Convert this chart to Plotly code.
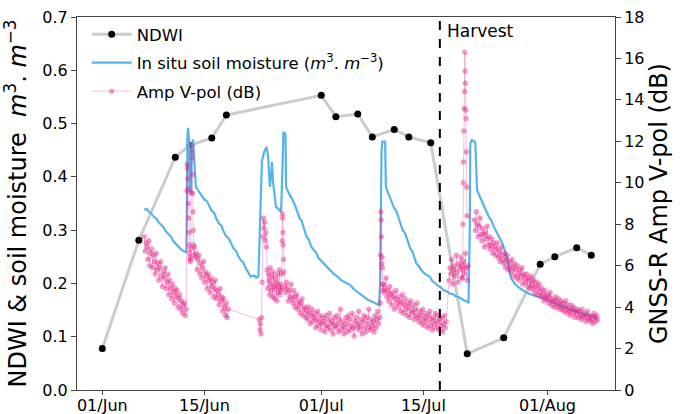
import pandas as pd
import plotly.graph_objects as go

BASE = pd.Timestamp("2019-06-01")

# ---------------- NDWI (Sentinel-2 dates) ----------------
ndwi_dates = ["2019-06-01", "2019-06-06", "2019-06-11", "2019-06-13", "2019-06-16",
              "2019-06-18", "2019-07-01", "2019-07-03", "2019-07-06", "2019-07-08",
              "2019-07-11", "2019-07-13", "2019-07-16", "2019-07-21", "2019-07-26",
              "2019-07-31", "2019-08-02", "2019-08-05", "2019-08-07"]
ndwi_values = [0.078, 0.281, 0.437, 0.459, 0.473, 0.516, 0.553, 0.513, 0.518, 0.475,
               0.489, 0.475, 0.464, 0.068, 0.098, 0.236, 0.250, 0.267, 0.253]

# ---------------- In situ soil moisture (days since 1 Jun, m3/m3) ----------------
sm_days = [5.74, 6.10, 6.40, 6.67, 7.00, 7.40, 7.70, 8.06, 8.40, 8.70, 9.06, 9.40, 9.70,
           10.06, 10.40, 10.83, 11.39, 11.53, 11.67, 11.76, 11.88, 11.99, 12.15, 12.26,
           12.43, 12.57, 12.82, 13.2, 13.6, 14.0, 14.3, 14.6, 15.0, 15.3, 15.6, 16.0,
           16.3, 16.6, 17.0, 17.3, 17.6, 18.0, 18.3, 18.6, 19.0, 19.3, 19.6, 20.0, 20.32,
           20.8, 21.1, 21.39, 21.60, 21.87, 22.18, 22.50, 22.70, 22.96, 23.10, 23.24,
           23.40, 23.79, 24.10, 24.49, 24.65, 24.82, 25.10, 25.18, 25.6, 26.1, 26.5, 27.0,
           27.3, 27.6, 27.96, 28.3, 28.6, 29.0, 29.3, 29.6, 30.0, 30.4, 30.74, 31.0, 31.4,
           31.7, 32.0, 32.4, 32.7, 33.0, 33.4, 33.99, 34.4, 34.8, 35.2, 35.6, 36.0, 36.4,
           36.8, 37.2, 37.6, 37.92, 38.06, 38.26, 38.38, 38.75, 38.85, 39.54, 40.0, 40.3,
           40.6, 41.15, 41.5, 41.8, 42.2, 42.5, 42.8, 43.01, 43.5, 43.8, 44.2, 44.86, 45.2,
           45.6, 46.0, 46.4, 46.71, 47.2, 47.6, 48.0, 48.4, 48.79, 49.2, 49.6, 50.0, 50.18,
           50.35, 50.42, 50.65, 51.11, 51.35, 51.94, 52.4, 52.96, 53.3, 53.7, 54.2, 54.82,
           55.3, 55.7, 56.0, 56.5, 57.1, 58.0, 59.0, 60.4, 61.2, 62.0, 63.15, 64.0, 65.0,
           66.0, 67.32, 67.78]
sm_values = [0.338, 0.340, 0.334, 0.332, 0.326, 0.322, 0.315, 0.310, 0.305, 0.298, 0.292,
             0.288, 0.280, 0.274, 0.270, 0.263, 0.259, 0.260, 0.480, 0.492, 0.470, 0.375,
             0.370, 0.460, 0.470, 0.440, 0.381, 0.373, 0.365, 0.357, 0.355, 0.346, 0.336,
             0.333, 0.322, 0.312, 0.309, 0.298, 0.288, 0.285, 0.275, 0.265, 0.262, 0.252,
             0.243, 0.240, 0.230, 0.221, 0.213, 0.215, 0.211, 0.213, 0.300, 0.430, 0.447,
             0.456, 0.440, 0.381, 0.400, 0.428, 0.390, 0.344, 0.340, 0.334, 0.400, 0.484,
             0.480, 0.381, 0.368, 0.356, 0.343, 0.323, 0.318, 0.303, 0.288, 0.282, 0.270,
             0.262, 0.258, 0.248, 0.242, 0.238, 0.231, 0.228, 0.222, 0.218, 0.215, 0.211,
             0.206, 0.204, 0.201, 0.197, 0.190, 0.186, 0.181, 0.177, 0.174, 0.169, 0.167,
             0.164, 0.161, 0.159, 0.200, 0.450, 0.466, 0.466, 0.381, 0.356, 0.341, 0.336,
             0.322, 0.300, 0.294, 0.280, 0.265, 0.260, 0.247, 0.238, 0.230, 0.223, 0.218,
             0.213, 0.205, 0.200, 0.196, 0.192, 0.188, 0.185, 0.181, 0.180, 0.176, 0.175,
             0.171, 0.168, 0.166, 0.163, 0.300, 0.463, 0.469, 0.465, 0.375, 0.355, 0.342,
             0.325, 0.318, 0.305, 0.292, 0.275, 0.255, 0.228, 0.210, 0.200, 0.192, 0.184,
             0.178, 0.172, 0.167, 0.162, 0.156, 0.152, 0.147, 0.143, 0.138, 0.135]

# ---------------- GNSS-R Amp V-pol (dB): segments (start, step in hours, values) ----------------
amp_starts = ["2019-06-06 18:00", "2019-06-12 14:00", "2019-06-13 15:00", "2019-06-22 12:00",
              "2019-06-25 13:00", "2019-06-26 00:00", "2019-07-09 01:00", "2019-07-09 12:00",
              "2019-07-18 12:00", "2019-07-20 08:00", "2019-07-22 00:00"]
amp_steps_h = [3, 1, 3, 2, 1, 3, 1, 3, 3, 1, 3]
amp_seg1 = [7.4, 6.7, 7.1, 6.9, 6.3, 7.2, 6.0, 6.6, 6.8, 5.9, 6.5, 6.2, 5.6, 6.6, 5.8, 6.1,
            5.3, 5.9, 6.2, 5.5, 5.0, 5.7, 5.4, 5.9, 4.9, 5.2, 5.6, 4.6, 5.3, 4.9, 4.4, 5.1,
            4.7, 4.2, 4.9, 4.5, 4.8, 4.0, 4.4, 4.6, 3.9, 4.3, 3.7, 4.1, 4.2, 3.6, 3.9]
amp_seg2 = [9.6, 10.9, 10.7, 10.2, 9.7, 9.0, 8.3, 7.6, 7.0, 6.6, 6.4, 6.2, 6.3, 6.8, 9.5,
            11.5, 11.8, 11.2, 10.4, 9.5, 8.6, 7.7, 7.0, 6.5]
amp_seg3 = [6.9, 6.4, 6.6, 5.8, 6.3, 6.5, 5.6, 6.1, 5.4, 5.9, 6.2, 5.2, 5.7, 5.5, 4.9, 5.6,
            5.3, 4.7, 5.4, 5.0, 5.2, 4.5, 4.9, 5.3, 4.4, 4.8, 4.6, 4.1, 4.9, 4.3, 4.5, 3.8,
            4.4, 4.0, 3.6, 4.2, 3.5, 3.9]
amp_seg4 = [3.4, 2.9, 3.2, 2.7, 3.5, 5.2, 7.4, 8.3, 7.8, 8.1, 7.2, 7.6, 6.9, 5.8, 4.9, 5.6,
            5.3, 4.6, 5.9, 5.1, 4.8, 5.5, 4.5, 5.7, 5.0, 4.4, 5.4, 4.9, 5.2, 4.3, 5.6, 4.7,
            5.0, 5.8, 4.6, 5.1, 4.8]
amp_seg5 = [4.9, 5.6, 7.2, 8.5, 8.3, 7.6, 7.0, 6.3, 5.7]
amp_seg6 = [5.0, 4.7, 5.2, 4.9, 4.3, 4.8, 4.5, 5.1,
            4.4, 4.2, 4.8, 4.0, 4.5, 4.6, 3.9, 4.3,
            4.1, 3.7, 4.2, 4.4, 3.6, 3.9, 4.0, 3.5,
            3.8, 3.4, 4.0, 3.7, 3.2, 3.6, 3.9, 3.3,
            3.5, 3.7, 3.0, 3.4, 3.8, 3.1, 3.3, 3.6,
            2.9, 3.2, 3.5, 3.3, 2.8, 3.6, 3.1, 3.0,
            3.4, 3.7, 2.9, 3.2, 3.3, 2.7, 3.5, 3.1,
            3.0, 3.6, 3.2, 2.8, 3.4, 3.9, 2.9, 3.1,
            3.3, 2.7, 3.0, 3.5, 3.2, 2.8, 3.6, 3.4,
            2.9, 3.1, 3.7, 3.0, 2.6, 3.3, 3.5, 3.0,
            3.2, 3.8, 2.9, 3.1, 3.4, 2.7, 3.3, 3.6,
            3.0, 2.8, 3.5, 3.2, 3.9, 3.0, 2.9, 3.4,
            3.1, 3.3, 2.8, 3.6, 3.0, 3.4, 3.8, 3.2]
amp_seg7 = [3.5, 4.2, 6.5, 8.6, 8.2, 7.4, 6.1, 6.4, 5.9, 5.1, 4.8]
amp_seg8 = [5.1, 4.7, 4.9, 5.4, 4.5, 4.8, 4.3, 5.0,
            4.6, 4.1, 4.7, 4.5, 3.9, 4.4, 4.8, 4.2,
            4.0, 4.5, 4.3, 3.8, 4.2, 4.6, 3.7, 4.1,
            4.4, 3.9, 3.6, 4.2, 4.0, 3.5, 4.3, 3.8,
            3.7, 4.1, 3.4, 3.9, 3.6, 4.2, 3.5, 3.3,
            3.8, 3.6, 3.2, 3.9, 3.4, 3.1, 3.7, 3.5,
            3.3, 3.0, 3.6, 3.8, 3.1, 3.4, 2.9, 3.5,
            3.2, 3.7, 3.0, 3.3, 3.6, 2.9, 3.4, 3.1,
            3.5, 2.8, 3.2, 3.6, 3.0, 3.3]
amp_seg9 = [5.3, 5.9, 5.6, 6.3, 5.1, 5.8, 6.0, 5.5, 6.5, 5.7, 5.2, 6.1, 5.9, 6.4, 5.4, 5.8,
            6.2, 5.6, 6.6, 5.9, 5.3, 6.0]
amp_seg10 = [5.4, 6.0, 8.0, 10.0, 11.0, 12.5, 13.6, 14.4, 16.3, 15.4, 14.8, 13.5, 13.1,
             11.5, 9.8, 8.4]
amp_seg11 = [8.2, 7.7, 8.6, 8.0, 7.4, 7.9, 8.3, 7.5,
             7.2, 7.8, 7.5, 6.9, 7.6, 7.3, 7.9, 7.0,
             7.4, 6.8, 7.0, 7.3, 6.6, 7.1, 6.9, 6.5,
             6.8, 7.1, 6.4, 6.7, 6.2, 6.9, 6.5, 6.3,
             6.1, 6.6, 5.9, 6.3, 6.5, 5.8, 6.2, 6.0,
             5.7, 6.3, 5.9, 5.5, 6.1, 5.8, 5.4, 6.0,
             5.6, 5.3, 5.8, 5.5, 5.9, 5.1, 5.6, 5.4,
             5.2, 5.6, 5.0, 5.4, 5.3, 4.9, 5.5, 5.1,
             4.9, 5.3, 4.7, 5.0, 5.2, 4.6, 4.9, 5.1,
             4.7, 4.5, 4.9, 4.6, 4.3, 4.8, 4.5, 4.4,
             4.6, 4.2, 4.5, 4.7, 4.1, 4.4, 4.3, 4.0,
             4.3, 4.5, 4.0, 4.2, 4.4, 3.9, 4.1, 4.3,
             3.9, 4.2, 3.8, 4.0, 4.3, 3.7, 4.1, 3.9,
             3.8, 3.6, 4.1, 3.9, 3.7, 4.0, 3.5, 3.8,
             3.7, 3.9, 3.5, 3.8, 3.6, 3.4, 3.9, 3.6,
             3.5, 3.7, 3.3, 3.6, 3.8, 3.4, 3.5, 3.3,
             3.6, 3.4, 3.2, 3.7, 3.5, 3.3, 3.6, 3.4]
amp_segments = [amp_seg1, amp_seg2, amp_seg3, amp_seg4, amp_seg5, amp_seg6, amp_seg7,
                amp_seg8, amp_seg9, amp_seg10, amp_seg11]

harvest_date = "2019-07-17 06:00"
x_ticks = ["2019-06-01", "2019-06-15", "2019-07-01", "2019-07-15", "2019-08-01"]
x_ticklabels = ["01/Jun", "15/Jun", "01/Jul", "15/Jul", "01/Aug"]

# ---------------- build series ----------------
sm_time = [BASE + pd.Timedelta(days=d) for d in sm_days]
amp_time, amp_vals = [], []
for start, step, vals in zip(amp_starts, amp_steps_h, amp_segments):
    t0 = pd.Timestamp(start)
    for i, v in enumerate(vals):
        amp_time.append(t0 + pd.Timedelta(hours=step * i))
        amp_vals.append(v)

FONT = "DejaVu Sans"
fig = go.Figure()
fig.add_trace(go.Scatter(
    x=ndwi_dates, y=ndwi_values, mode="lines+markers", name="NDWI",
    line=dict(color="#cccccc", width=3),
    marker=dict(color="black", size=7),
    legendgroup="a", yaxis="y"))
fig.add_trace(go.Scatter(
    x=sm_time, y=sm_values, mode="lines",
    name="In situ soil moisture (<i>m</i><sup>3</sup>. <i>m</i><sup>−3</sup>)",
    line=dict(color="#56B4E9", width=2.2),
    legendgroup="b", yaxis="y"))
fig.add_trace(go.Scatter(
    x=amp_time, y=amp_vals, mode="lines+markers", name="Amp V-pol (dB)",
    line=dict(color="rgba(231,41,138,0.3)", width=1),
    marker=dict(color="rgba(231,41,138,0.45)", size=5,
                line=dict(color="rgba(231,41,138,0.3)", width=0.5)),
    legendgroup="c", yaxis="y2"))

fig.add_shape(type="line", xref="x", yref="paper", x0=harvest_date, x1=harvest_date,
              y0=0, y1=1, line=dict(color="black", width=2, dash="dash"))
fig.add_annotation(x=pd.Timestamp("2019-07-17 23:00"), y=0.962, xref="x", yref="paper",
                   text="Harvest", showarrow=False, xanchor="left", yanchor="middle",
                   font=dict(family=FONT, size=17, color="black"))

axis_common = dict(showline=True, linecolor="#444", linewidth=1, ticks="outside",
                   tickcolor="#444", showgrid=False, zeroline=False,
                   automargin=False,
                   tickfont=dict(family=FONT, size=16, color="black"))

fig.update_layout(
    width=682, height=414,
    margin=dict(l=77, r=67, t=17, b=24),
    plot_bgcolor="white", paper_bgcolor="white",
    font=dict(family=FONT, size=16, color="black"),
    showlegend=True,
    legend=dict(x=0.018, y=1.0, xanchor="left", yanchor="top", itemwidth=40,
                bgcolor="rgba(0,0,0,0)", font=dict(family=FONT, size=16.5),
                tracegroupgap=4),
    xaxis=dict(type="date", range=["2019-05-28 12:45", "2019-08-10 06:00"],
               tickvals=x_ticks, ticktext=x_ticklabels, mirror=True,
               ticklen=4, ticklabelstandoff=-3, **axis_common),
    yaxis=dict(range=[0, 0.7], dtick=0.1, tickformat=".1f", ticklen=5,
               title=dict(text="NDWI & soil moisture  <i>m</i><sup>3</sup>. <i>m</i><sup>−3</sup>",
                          font=dict(family=FONT, size=24), standoff=10),
               **axis_common),
    yaxis2=dict(range=[0, 18], dtick=2, overlaying="y", side="right", ticklen=5,
                title=dict(text="GNSS-R Amp V-pol (dB)", font=dict(family=FONT, size=24),
                           standoff=0),
                **axis_common),
)

fig.write_html("out.html")
